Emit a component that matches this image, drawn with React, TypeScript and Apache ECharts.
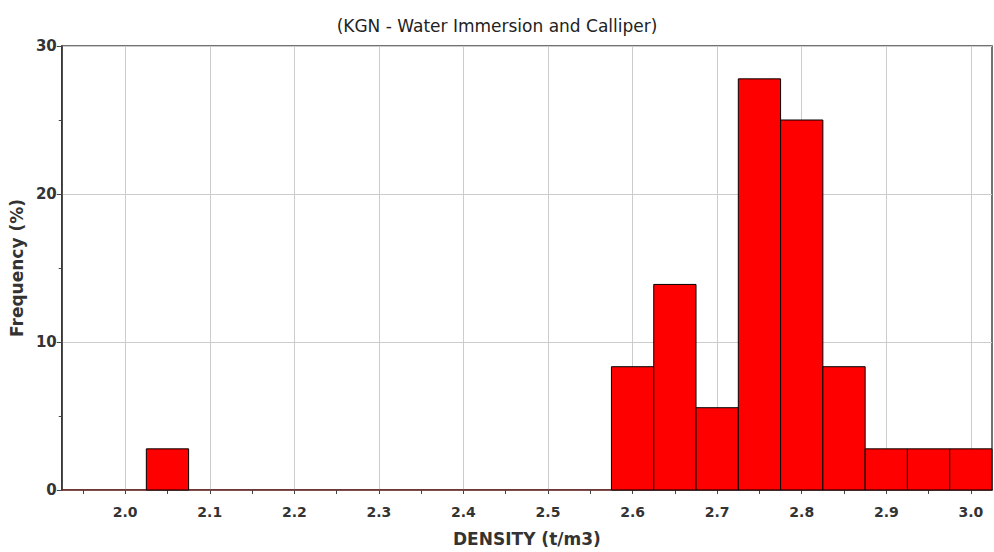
import React, { useEffect, useRef } from "react";
import * as echarts from "echarts";

// Histogram bins (bin start, bin end) in t/m3 and frequency in %
const binStarts = [2.025, 2.575, 2.625, 2.675, 2.725, 2.775, 2.825, 2.875, 2.925, 2.975];
const binEnds = [2.075, 2.625, 2.675, 2.725, 2.775, 2.825, 2.875, 2.925, 2.975, 3.025];
const frequencies = [2.78, 8.33, 13.89, 5.56, 27.78, 25.0, 8.33, 2.78, 2.78, 2.78];

const xLabelValues = [2.0, 2.1, 2.2, 2.3, 2.4, 2.5, 2.6, 2.7, 2.8, 2.9, 3.0];
const xTickValues = [
  1.95, 2.0, 2.05, 2.1, 2.15, 2.2, 2.25, 2.3, 2.35, 2.4, 2.45, 2.5, 2.55, 2.6,
  2.65, 2.7, 2.75, 2.8, 2.85, 2.9, 2.95, 3.0,
];

const FONT = "'DejaVu Sans', Verdana, sans-serif";

export default function App() {
  const ref = useRef<HTMLDivElement>(null);

  useEffect(() => {
    if (!ref.current) return;
    const chart = echarts.init(ref.current, undefined, { renderer: "svg" });
    const data = binStarts.map((s, i) => [s, binEnds[i], frequencies[i]]);

    chart.setOption({
      animation: false,
      backgroundColor: "#ffffff",
      title: {
        text: "(KGN - Water Immersion and Calliper)",
        left: "center",
        top: 12,
        textStyle: { fontFamily: FONT, fontSize: 17, fontWeight: "normal", color: "#222" },
      },
      grid: {
        left: 61,
        right: 2,
        top: 46,
        bottom: 60,
        show: true,
        borderColor: "#444",
        borderWidth: 1.5,
        backgroundColor: "transparent",
      },
      xAxis: [
        {
          type: "value",
          min: 1.925,
          max: 3.025,
          name: "DENSITY (t/m3)",
          nameLocation: "middle",
          nameGap: 40,
          nameTextStyle: { fontFamily: FONT, fontSize: 17, fontWeight: "bold", color: "#333" },
          axisLine: { show: true, lineStyle: { color: "#6a2424", width: 1.5 } },
          axisTick: {
            show: true,
            inside: false,
            length: 4,
            customValues: xTickValues,
            lineStyle: { color: "#444" },
          },
          axisLabel: {
            customValues: xLabelValues,
            formatter: (v: number) => v.toFixed(1),
            margin: 15,
            fontFamily: FONT,
            fontSize: 14,
            fontWeight: "bold",
            color: "#333",
          },
          splitLine: { show: false },
        },
        {
          type: "value",
          min: 1.925,
          max: 3.025,
          position: "bottom",
          axisLine: { show: false },
          axisTick: { show: false, customValues: xLabelValues },
          axisLabel: { show: false, customValues: xLabelValues },
          splitLine: { show: true, lineStyle: { color: "#cccccc", width: 1 } },
        },
      ],
      yAxis: {
        type: "value",
        min: 0,
        max: 30,
        interval: 10,
        name: "Frequency (%)",
        nameLocation: "middle",
        nameGap: 36,
        nameTextStyle: { fontFamily: FONT, fontSize: 17, fontWeight: "bold", color: "#333" },
        axisLine: { show: true, lineStyle: { color: "#333", width: 1.5 } },
        axisTick: { show: true, inside: false, length: 5, lineStyle: { color: "#444" } },
        minorTick: { show: true, splitNumber: 2, length: 3, lineStyle: { color: "#444" } },
        axisLabel: {
          margin: 5,
          fontFamily: FONT,
          fontSize: 15,
          fontWeight: "bold",
          color: "#333",
        },
        splitLine: { show: true, lineStyle: { color: "#cccccc", width: 1 } },
      },
      series: [
        {
          type: "custom",
          xAxisIndex: 0,
          renderItem: (params: any, api: any) => {
            const p0 = api.coord([api.value(0), api.value(2)]);
            const p1 = api.coord([api.value(1), 0]);
            return {
              type: "rect",
              shape: { x: p0[0], y: p0[1], width: p1[0] - p0[0], height: p1[1] - p0[1] },
              style: { fill: "#ff0000", stroke: "#000000", lineWidth: 1 },
            };
          },
          encode: { x: [0, 1], y: 2 },
          data,
        },
      ],
    });

    return () => chart.dispose();
  }, []);

  return (
    <div
      ref={ref}
      style={{ position: "fixed", left: 0, top: 0, width: 994, height: 552 }}
    />
  );
}
